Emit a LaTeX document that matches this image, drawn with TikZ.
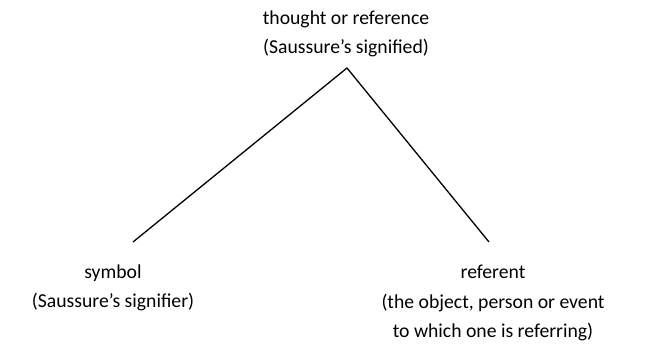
\documentclass[tikz,border=0pt]{standalone}
\usepackage{fontspec}
\setmainfont{Carlito}
\usepackage{tikz}
\usetikzlibrary{positioning}
\tikzset{
  label/.style={
    align=center, inner sep=0pt,
    font=\fontsize{19.7}{29.5}\selectfont
  },
  leg/.style={
    line width=1.3pt, draw=black
  }
}
\begin{document}
\begin{tikzpicture}[x=1pt, y=-1pt]
  \useasboundingbox (0,0) rectangle (659,364);
  \node[label] (thought) at (346,34) {thought or reference\\(Saussure’s signified)};
  \node[label] (symbol) at (113,288) {symbol\\(Saussure’s signifier)};
  \node[label] (referent) at (493,303) {referent\\(the object, person or event\\to which one is referring)};
  \coordinate (apex) at (347,68);
  \coordinate (symend) at (133,242);
  \coordinate (refend) at (489,242);
  \draw[leg] (symend) -- (apex) -- (refend);
\end{tikzpicture}
\end{document}
